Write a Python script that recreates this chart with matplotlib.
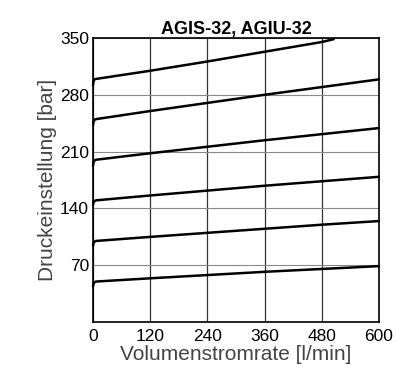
import numpy as np
import matplotlib
matplotlib.use('Agg')
import matplotlib.pyplot as plt

# Volumenstrom [l/min] und Druck [bar]
flow = [0, 1, 3, 6, 120, 240, 360, 480, 600]
flow_300 = [0, 1, 3, 6, 120, 240, 360, 480, 505]
druck_50 = [44, 47.5, 49, 50, 54, 58, 62, 65.5, 69]
druck_100 = [94, 97.5, 99, 100, 105, 110, 115, 120, 124.5]
druck_150 = [145, 148, 149, 150, 156, 162, 168, 173.5, 179]
druck_200 = [193, 197, 199, 200, 208, 216, 224, 231.5, 239]
druck_250 = [243, 247, 249, 250, 260, 270, 280, 289.5, 299]
druck_300 = [292, 297, 299, 299.5, 309.6, 321, 333, 345, 348.5]
kurven = [(flow, druck_50), (flow, druck_100), (flow, druck_150),
          (flow, druck_200), (flow, druck_250), (flow_300, druck_300)]

x_ticks = [0, 120, 240, 360, 480, 600]
y_ticks = [70, 140, 210, 280, 350]

fig = plt.figure(figsize=(3.96, 3.72), dpi=100)
ax = fig.add_axes([0.235, 0.134, 0.722, 0.764])

for fx, d in kurven:
    ax.plot(fx, d, color='black', linewidth=1.8, solid_capstyle='round',
            clip_on=False)

ax.set_xlim(0, 600)
ax.set_ylim(0, 350)
ax.set_xticks(x_ticks)
ax.set_yticks(y_ticks)
ax.grid(True, axis='x', color='#333333', linewidth=0.9)
ax.grid(True, axis='y', color='#8a8a8a', linewidth=0.8)
ax.tick_params(length=0, labelsize=12.5)
ax.tick_params(axis='y', pad=3)
ax.tick_params(axis='x', pad=5)
for lab in ax.get_xticklabels() + ax.get_yticklabels():
    lab.set_family('Liberation Sans')
for s in ax.spines.values():
    s.set_linewidth(1.2)

ax.set_title('AGIS-32, AGIU-32', fontweight='bold', fontsize=13, pad=2,
             family='Liberation Sans')
ax.set_xlabel('Volumenstromrate [l/min]', fontsize=15, color='#444444',
              family='Liberation Sans', labelpad=1)
ax.set_ylabel('Druckeinstellung [bar]', fontsize=15, color='#444444',
              family='Liberation Sans', labelpad=2)

plt.savefig('out.png', dpi=100)
